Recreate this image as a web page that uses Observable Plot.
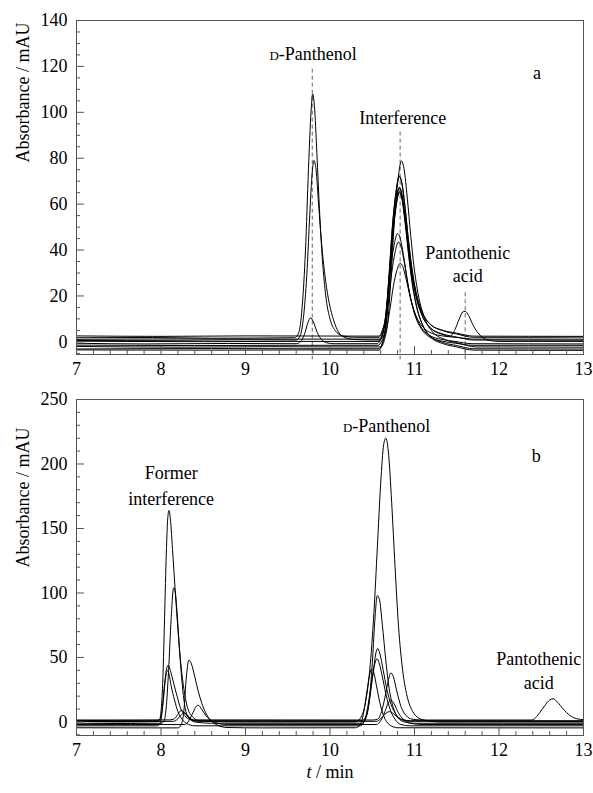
<!DOCTYPE html>
<html><head><meta charset="utf-8">
<script src="https://cdn.jsdelivr.net/npm/d3@7"></script>
<script src="https://cdn.jsdelivr.net/npm/@observablehq/plot@0.6"></script>
<style>
body{margin:0;background:#fff;}
#chart{width:593px;height:793px;position:relative;overflow:hidden;}
#chart svg{position:absolute;left:0;font-family:"Liberation Serif","Times New Roman",serif !important;}
#chart svg text, #chart svg tspan{font-family:"Liberation Serif","Times New Roman",serif !important;}
</style>
</head><body><div id="chart"></div>
<script>
// ---- tick values ----
const xMajor = [7, 8, 9, 10, 11, 12, 13];
const xMinor = [7.2,7.4,7.6,7.8,8.2,8.4,8.6,8.8,9.2,9.4,9.6,9.8,10.2,10.4,10.6,10.8,11.2,11.4,11.6,11.8,12.2,12.4,12.6,12.8];
const yMajorA = [0, 20, 40, 60, 80, 100, 120, 140];
const yMinorA = [-5,5,10,15,25,30,35,45,50,55,65,70,75,85,90,95,105,110,115,125,130,135];
const yMajorB = [0, 50, 100, 150, 200, 250];
const yMinorB = [-10,10,20,30,40,60,70,80,90,110,120,130,140,160,170,180,190,210,220,230,240];

// ---- panel a traces: [t (min), absorbance (mAU)] ----
const a1 = [[7,1.8],[7.9,1.9],[8.6,1.6],[9.58,1.8],[9.63,4],[9.67,15],[9.71,40],[9.745,75],[9.775,100],[9.795,108],[9.815,103],[9.845,82],[9.875,58],[9.91,36],[9.95,20],[10.0,10],[10.06,5],[10.15,2.6],[10.3,2],[10.58,2],[10.62,4.8],[10.66,11.8],[10.70,30],[10.74,51],[10.78,65],[10.82,72],[10.85,69.2],[10.89,58],[10.93,44],[10.97,32.1],[11.02,21.6],[11.09,13.2],[11.19,7.6],[11.34,4.8],[11.5,3.4],[11.7,2],[12.4,2.0],[13,2.1]];
const a2 = [[7,0.6],[8.2,0.7],[9.0,0.9],[9.6,0.8],[9.65,3],[9.69,12],[9.73,32],[9.76,55],[9.79,74],[9.81,79],[9.835,75],[9.865,60],[9.9,43],[9.94,29],[9.98,19],[10.03,11],[10.09,5],[10.17,2],[10.3,1],[10.58,0.8],[10.62,3.4],[10.66,10],[10.70,27.2],[10.74,47],[10.78,60.2],[10.82,66.8],[10.85,64.2],[10.89,53.6],[10.93,40.4],[10.97,29.2],[11.02,19.3],[11.09,11.4],[11.19,6.1],[11.34,3.4],[11.5,2.1],[11.7,0.8],[13,0.7]];
const a3 = [[7,-0.6],[7.8,-0.9],[8.8,-0.7],[9.6,-0.8],[9.65,0],[9.7,3.5],[9.74,8.5],[9.77,10.5],[9.8,9],[9.85,4],[9.9,1],[9.96,-0.4],[10.05,-0.8],[10.56,-0.8],[10.60,1.1],[10.64,5.9],[10.68,18.4],[10.72,32.8],[10.76,42.4],[10.80,47.2],[10.83,45.3],[10.87,37.6],[10.91,28],[10.95,19.8],[11.0,12.6],[11.07,6.9],[11.17,3.0],[11.32,1.1],[11.48,0.2],[11.68,-0.8],[13,-0.9]];
const a4 = [[7,-2.0],[8.3,-2.3],[9.3,-2.1],[10.1,-2.2],[10.605,-2.2],[10.645,1.0],[10.685,9.1],[10.725,30.2],[10.765,54.5],[10.805,70.7],[10.845,78.8],[10.875,75.6],[10.915,62.6],[10.955,46.4],[10.995,32.6],[11.045,20.5],[11.115,10.8],[11.215,4.3],[11.365,1.0],[11.525,-0.6],[11.725,-2.2],[13,-2.3]];
const a5 = [[7,0.3],[8.5,0.1],[9.5,0.2],[10.58,0.2],[10.62,3.1],[10.66,10.3],[10.70,29],[10.74,50.6],[10.78,65],[10.82,72.2],[10.85,69.3],[10.89,57.8],[10.93,43.4],[10.97,31.2],[11.02,20.4],[11.09,11.7],[11.19,6],[11.34,3.1],[11.42,2.4],[11.48,5.5],[11.53,10],[11.57,13],[11.6,13.3],[11.64,11.5],[11.69,7.5],[11.75,4],[11.81,1.8],[11.89,0.6],[12.0,0.2],[13,0.2]];
const a6 = [[7,-3.1],[8.6,-2.9],[9.6,-3.0],[10.58,-3.0],[10.62,-0.3],[10.66,6.5],[10.70,24.2],[10.74,44.6],[10.78,58.2],[10.82,65],[10.85,62.3],[10.89,51.4],[10.93,37.8],[10.97,26.2],[11.02,16],[11.09,7.9],[11.19,2.4],[11.34,-0.3],[11.5,-1.6],[11.7,-3.0],[13,-3.1]];
const a7 = [[7,2.6],[8.0,2.4],[9.0,2.6],[10.58,2.5],[10.62,5],[10.66,11.3],[10.70,27.7],[10.74,46.6],[10.78,59.2],[10.82,65.5],[10.85,63],[10.89,52.9],[10.93,40.3],[10.97,29.6],[11.02,20.1],[11.09,12.6],[11.19,7.5],[11.34,5],[11.5,3.8],[11.7,2.5],[13,2.4]];
const a8 = [[7,-1.4],[8.4,-1.6],[9.4,-1.5],[10.57,-1.5],[10.61,0.3],[10.65,4.8],[10.69,16.5],[10.73,30],[10.77,39],[10.81,43.5],[10.84,41.7],[10.88,34.5],[10.92,25.5],[10.96,17.9],[11.01,11.1],[11.08,5.7],[11.18,2.1],[11.33,0.3],[11.49,-0.6],[11.69,-1.5],[13,-1.5]];
const a9 = [[7,1.1],[8.2,1.3],[9.2,1.2],[10.59,1.2],[10.63,2.5],[10.67,5.8],[10.71,14.4],[10.75,24.3],[10.79,30.9],[10.83,34.2],[10.86,32.9],[10.9,27.6],[10.94,21],[10.98,15.4],[11.03,10.4],[11.1,6.5],[11.2,3.8],[11.35,2.5],[11.51,1.9],[11.71,1.2],[13,1.2]];
const a10 = [[7,-3.5],[8.7,-3.6],[9.8,-3.5],[10.58,-3.6],[10.62,-0.8],[10.66,6.3],[10.70,24.8],[10.74,46.1],[10.78,60.3],[10.82,67.4],[10.85,64.6],[10.89,53.2],[10.93,39],[10.97,26.9],[11.02,16.3],[11.09,7.8],[11.19,2.1],[11.34,-0.8],[11.5,-2.2],[11.7,-3.6],[13,-3.7]];

// ---- panel b traces ----
const b1 = [[7,0.5],[7.5,0],[7.95,0.3],[7.98,1],[8.0,8],[8.02,30],[8.04,75],[8.06,125],[8.08,158],[8.095,164],[8.11,158],[8.14,130],[8.17,100],[8.2,72],[8.23,48],[8.27,26],[8.31,12],[8.36,5],[8.45,1],[8.6,0.3],[9,0],[10.3,0],[10.36,3],[10.42,15],[10.47,40],[10.52,85],[10.56,135],[10.6,185],[10.635,215],[10.66,220],[10.69,210],[10.73,170],[10.77,120],[10.81,75],[10.86,40],[10.92,18],[10.98,8],[11.05,3],[11.15,1],[11.3,0],[12,0],[13,0]];
const b2 = [[7,-1],[7.6,-1.2],[8.0,-1],[8.03,0],[8.06,10],[8.09,40],[8.12,80],[8.15,104],[8.17,100],[8.19,85],[8.22,55],[8.25,30],[8.28,13],[8.32,4],[8.4,0],[8.6,-1],[9.5,-1],[10.38,-1],[10.42,2],[10.46,14],[10.5,45],[10.53,78],[10.56,98],[10.585,95],[10.62,75],[10.66,48],[10.7,26],[10.75,11],[10.81,3],[10.88,0],[11,-1],[13,-1]];
const b3 = [[7,1.2],[7.9,1],[7.98,1.5],[8.01,8],[8.04,28],[8.065,41],[8.085,44],[8.11,40],[8.15,30],[8.19,20],[8.23,11],[8.28,5],[8.34,2],[8.42,1],[9.8,1],[10.38,1],[10.43,5],[10.47,18],[10.51,38],[10.545,54],[10.565,57],[10.59,53],[10.63,40],[10.67,26],[10.72,14],[10.78,6],[10.85,2],[10.95,1],[13,1]];
const b4 = [[7,-3],[7.95,-3],[7.99,-1],[8.02,12],[8.05,32],[8.075,40],[8.095,37],[8.12,28],[8.16,17],[8.2,8],[8.25,2],[8.3,-1],[8.4,-3],[10.36,-3],[10.41,1],[10.45,13],[10.49,30],[10.53,45],[10.555,49],[10.58,46],[10.62,35],[10.66,22],[10.71,10],[10.77,2],[10.84,-2],[10.95,-3],[13,-3]];
const b5 = [[7,-4.5],[8.2,-4.6],[8.24,-2],[8.27,8],[8.3,35],[8.33,48],[8.36,45],[8.4,35],[8.44,24],[8.48,15],[8.53,7],[8.59,1],[8.67,-2.5],[8.78,-4.3],[9.2,-4.6],[10.3,-4.5],[10.36,-2],[10.4,8],[10.44,25],[10.47,37],[10.49,41],[10.515,39],[10.55,28],[10.59,15],[10.64,4],[10.7,-2],[10.8,-4.5],[13,-4.6]];
const b6 = [[7,1.5],[8.1,1.6],[8.16,2.5],[8.2,6],[8.24,9],[8.28,7],[8.33,3],[8.4,1.6],[10.5,1.5],[10.56,2],[10.61,8],[10.65,19],[10.69,32],[10.72,38],[10.75,35],[10.79,24],[10.84,12],[10.9,5],[10.97,2.2],[11.1,1.5],[12.38,1.5],[12.42,2.5],[12.48,7],[12.54,12.5],[12.6,17],[12.64,18],[12.69,15.5],[12.76,10],[12.84,5],[12.92,2.5],[13,1.8]];
const b7 = [[7,-2],[8.28,-2],[8.32,0],[8.37,6],[8.41,11.5],[8.44,13],[8.48,10],[8.53,5],[8.6,1],[8.7,-1.5],[8.8,-2],[10.55,-2],[10.6,1],[10.65,8],[10.69,15],[10.72,17],[10.76,14],[10.81,7],[10.87,2],[10.95,-1],[11.1,-2],[13,-2]];
const b8 = [[7,0.3],[8.15,0.5],[8.2,2.5],[8.24,5.5],[8.27,7],[8.31,5.5],[8.36,2],[8.42,0.5],[10.55,0.5],[10.6,2.5],[10.65,6],[10.7,8],[10.75,6.5],[10.81,3],[10.88,1],[10.95,0.5],[13,0.4]];

// ---- annotations ----
const labelsA = [
  {t: 9.80, v: 125.2, text: "D-Panthenol"},
  {t: 12.45, v: 117, text: "a"},
  {t: 10.86, v: 97.6, text: "Interference"},
  {t: 11.63, v: 38.7, text: "Pantothenic"},
  {t: 11.63, v: 28.7, text: "acid"}
];
const markersA = [
  {t: 9.79, top: 118.8},
  {t: 10.83, top: 91.4},
  {t: 11.60, top: 21.4}
];
const markerBottomA = -7.8;
const labelsB = [
  {t: 8.12, v: 193, text: "Former"},
  {t: 8.12, v: 173, text: "interference"},
  {t: 10.67, v: 229, text: "D-Panthenol"},
  {t: 12.44, v: 206, text: "b"},
  {t: 12.47, v: 49, text: "Pantothenic"},
  {t: 12.47, v: 30, text: "acid"}
];
const yTitle = "Absorbance / mAU";
const xTitle = "t / min";

const tracesA = [a1,a2,a3,a4,a5,a6,a7,a8,a9,a10];
const tracesB = [b1,b2,b3,b4,b5,b6,b7,b8];
const toRows = (tr) => tr.flatMap((pts, i) => pts.map(([t, v]) => ({t, v, id: i})));

const font = "Liberation Serif";
const frameColor = "#555";

function axisMarks(yMajor, yMinor) {
  return [
    Plot.axisX({ticks: xMajor, tickSize: 8, dy: -8, tickFormat: () => "", label: null, stroke: frameColor}),
    Plot.axisX({ticks: xMinor, tickSize: 4, dy: -4, tickFormat: () => "", label: null, stroke: frameColor}),
    Plot.axisX({ticks: xMajor, tickSize: 0, tickPadding: 8, tickFormat: d => String(d), label: null, fontSize: 18, fontFamily: font, fill: "black"}),
    Plot.axisY({ticks: yMajor, tickSize: 8, dx: 8, tickFormat: () => "", label: null, stroke: frameColor}),
    Plot.axisY({ticks: yMinor, tickSize: 4, dx: 4, tickFormat: () => "", label: null, stroke: frameColor}),
    Plot.axisY({ticks: yMajor, tickSize: 0, tickPadding: 9, tickFormat: d => String(d), label: null, fontSize: 18, fontFamily: font, fill: "black"}),
    Plot.frame({stroke: frameColor})
  ];
}

const plotA = Plot.plot({
  width: 593, height: 390,
  marginLeft: 76, marginRight: 10, marginTop: 20, marginBottom: 36,
  x: {domain: [7, 13], label: null},
  y: {domain: [-5.5, 140], label: null},
  style: {fontFamily: font, fontSize: "18px", background: "white", color: "black"},
  marks: [
    Plot.ruleX(markersA, {x: "t", y1: "top", y2: () => markerBottomA, stroke: "#666", strokeDasharray: "4,3", strokeWidth: 1}),
    Plot.line(toRows(tracesA), {x: "t", y: "v", z: "id", stroke: "black", strokeWidth: 1, curve: "monotone-x"}),
    ...axisMarks(yMajorA, yMinorA),
    Plot.text(labelsA, {x: "t", y: "v", text: "text", fontSize: 18, fontFamily: font, fill: "black"}),
    Plot.text([yTitle], {text: d => d, frameAnchor: "left", rotate: -90, dx: -53, dy: -25, fontSize: 18, fontFamily: font, fill: "black"})
  ]
});

const plotB = Plot.plot({
  width: 593, height: 403,
  marginLeft: 76, marginRight: 10, marginTop: 9, marginBottom: 58,
  x: {domain: [7, 13], label: null},
  y: {domain: [-10.5, 250], label: null},
  style: {fontFamily: font, fontSize: "18px", background: "white", color: "black"},
  marks: [
    Plot.line(toRows(tracesB), {x: "t", y: "v", z: "id", stroke: "black", strokeWidth: 1, curve: "monotone-x"}),
    ...axisMarks(yMajorB, yMinorB),
    Plot.text(labelsB, {x: "t", y: "v", text: "text", fontSize: 18, fontFamily: font, fill: "black"}),
    Plot.text([yTitle], {text: d => d, frameAnchor: "left", rotate: -90, dx: -53, fontSize: 18, fontFamily: font, fill: "black"}),
    Plot.text([xTitle], {text: d => d, frameAnchor: "bottom", dy: 42, fontSize: 18, fontFamily: font, fill: "black"})
  ]
});

const NS = "http://www.w3.org/2000/svg";
function fixText(svg) {
  svg.querySelectorAll("text").forEach(el => {
    el.setAttribute("font-family", "Liberation Serif");
    const s = el.textContent;
    if (s === "D-Panthenol") {
      el.textContent = "";
      const sc = document.createElementNS(NS, "tspan");
      sc.setAttribute("font-size", "13");
      sc.textContent = "D";
      el.appendChild(sc);
      el.appendChild(document.createTextNode("-Panthenol"));
    } else if (s === "t / min") {
      el.textContent = "";
      const it = document.createElementNS(NS, "tspan");
      it.setAttribute("font-style", "italic");
      it.textContent = "t";
      el.appendChild(it);
      el.appendChild(document.createTextNode(" / min"));
    }
  });
}
fixText(plotA); fixText(plotB);
plotA.style.top = "0px";
plotB.style.top = "390px";
const c = document.getElementById("chart");
c.appendChild(plotA);
c.appendChild(plotB);
</script>
</body></html>
